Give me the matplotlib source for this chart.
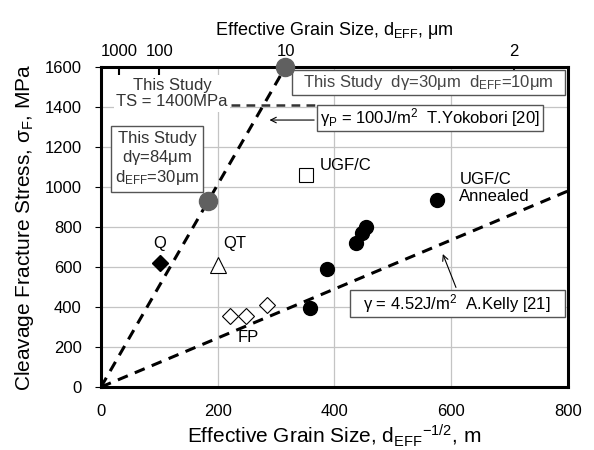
import numpy as np
import matplotlib
matplotlib.use("Agg")
import matplotlib.pyplot as plt
from matplotlib.patches import Rectangle

plt.rcParams["font.family"] = ["Liberation Sans", "DejaVu Sans"]
plt.rcParams["mathtext.fontset"] = "custom"
plt.rcParams["mathtext.rm"] = "Liberation Sans"
plt.rcParams["mathtext.it"] = "Liberation Sans"

# d_EFF^-1/2 (m^-1/2) vs cleavage fracture stress (MPa)
this_study_x = [183, 316]
this_study_y = [930, 1600]
annealed_x = [358, 387, 437, 447, 454, 575]
annealed_y = [395, 590, 720, 770, 800, 935]
ugfc_x = [352]
ugfc_y = [1060]
q_x = [101]
q_y = [620]
qt_x = [200]
qt_y = [610]
fp_x = [221, 248, 284]
fp_y = [355, 355, 410]

# slopes of the two reference lines through the origin
yokobori_slope = 1600 / 316
kelly_slope = 980 / 800
ts_level = 1410

# top axis ticks, d_EFF in micrometres
top_ticks_um = [1000, 100, 10, 2]


def boxed_text(ax, x0, x1, y0, y1, text, color="k"):
    ax.add_patch(Rectangle((x0, y0), x1 - x0, y1 - y0, fc="white", ec="#555555",
                           lw=1.0, zorder=5))
    ax.text((x0 + x1) / 2, (y0 + y1) / 2, text, fontsize=12, ha="center",
            va="center", color=color, zorder=6, linespacing=1.1)


fig = plt.figure(figsize=(5.94, 4.5), dpi=100)
ax = fig.add_axes([0.170, 0.140, 0.786, 0.711])
ax.set_xlim(0, 800)
ax.set_ylim(0, 1600)
ax.set_xticks([0, 200, 400, 600, 800])
ax.set_yticks(np.arange(0, 1601, 200))
ax.grid(True, color="#c4c4c4", linewidth=0.9)
ax.set_axisbelow(True)
for s in ax.spines.values():
    s.set_linewidth(2.2)
    s.set_zorder(7)
ax.tick_params(axis="x", length=0, labelsize=12, pad=12)
ax.tick_params(axis="y", length=4, labelsize=12, direction="out", pad=10)

# reference lines
xs = np.array([0, 316])
ax.plot(xs, yokobori_slope * xs, color="k", ls=(0, (3.5, 2.5)), lw=2.2, zorder=3)
xs = np.array([0, 800])
ax.plot(xs, kelly_slope * xs, color="k", ls=(0, (3.5, 2.5)), lw=2.2, zorder=3)
ax.plot([222, 370], [ts_level, ts_level], color="#333333", ls=(0, (3.5, 2.5)),
        lw=1.8, zorder=3)

# data points
ax.plot(this_study_x, this_study_y, "o", color="#606060", ms=13, zorder=8, clip_on=False)
ax.plot(annealed_x, annealed_y, "o", color="k", ms=10, zorder=4)
ax.plot(ugfc_x, ugfc_y, "s", mfc="white", mec="k", mew=0.8, ms=10, zorder=4)
ax.plot(q_x, q_y, "D", color="k", ms=8, zorder=4)
ax.plot(qt_x, qt_y, "^", mfc="white", mec="k", mew=0.8, ms=11, zorder=4)
ax.plot(fp_x, fp_y, "D", mfc="white", mec="k", mew=0.8, ms=8, zorder=4)

# point labels
ax.text(101, 720, "Q", fontsize=12, ha="center", va="center")
ax.text(229, 720, "QT", fontsize=12, ha="center", va="center")
ax.text(253, 250, "FP", fontsize=12, ha="center", va="center")
ax.text(375, 1110, "UGF/C", fontsize=12, ha="left", va="center")
ax.text(614, 995, "UGF/C\nAnnealed", fontsize=12, ha="left", va="center",
        linespacing=1.15)

# annotations
ax.text(122, 1468, "This Study\nTS = 1400MPa", fontsize=12, ha="center", va="center",
        color="#333333", linespacing=1.1, zorder=5,
        bbox=dict(boxstyle="square,pad=0.15", fc="white", ec="none"))
boxed_text(ax, 17, 175, 975, 1305,
           "This Study\nd$\\gamma$=84$\\mu$m\nd$_{EFF}$=30$\\mu$m", color="#333333")
boxed_text(ax, 327, 795, 1462, 1585,
           "This Study  d$\\gamma$=30$\\mu$m  d$_{EFF}$=10$\\mu$m", color="#444444")
boxed_text(ax, 370, 757, 1282, 1412, "$\\gamma_P$ = 100J/m$^2$  T.Yokobori [20]")
boxed_text(ax, 426, 795, 350, 485, "$\\gamma$ = 4.52J/m$^2$  A.Kelly [21]")

# arrows from boxes to lines
ax.annotate("", xy=(284, 1335), xytext=(370, 1335),
            arrowprops=dict(arrowstyle="->", color="k", lw=0.8))
ax.annotate("", xy=(584, 678), xytext=(610, 485),
            arrowprops=dict(arrowstyle="->", color="k", lw=0.8))

ax.set_xlabel("Effective Grain Size, d$_{EFF}$$^{-1/2}$, m", fontsize=15, labelpad=3)
ax.set_ylabel("Cleavage Fracture Stress, $\\sigma_F$, MPa", fontsize=15, labelpad=6)

# top axis: d_EFF in micrometres
top = ax.secondary_xaxis("top")
top.set_xticks([1.0 / np.sqrt(d * 1e-6) for d in top_ticks_um])
top.set_xticklabels([str(d) for d in top_ticks_um])
top.tick_params(direction="in", length=6, width=1.5, labelsize=12, pad=6)
top.set_xlabel("Effective Grain Size, d$_{EFF}$, $\\mu$m", fontsize=13, labelpad=6)

fig.savefig("out.png", dpi=100)
